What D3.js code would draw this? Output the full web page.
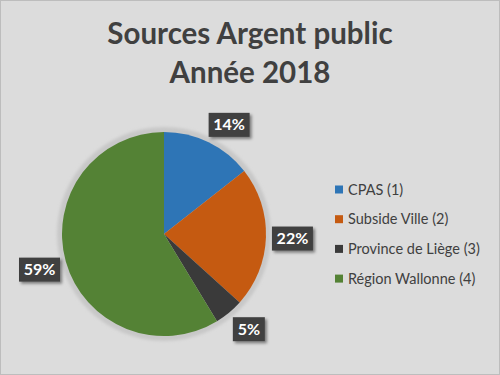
<!DOCTYPE html>
<html><head><meta charset="utf-8">
<script src="https://cdn.jsdelivr.net/npm/d3@7"></script>
<style>html,body{margin:0;padding:0;background:#fff;}svg{display:block;}</style>
</head><body>
<script>
const titleLines = ["Sources Argent public", "Année 2018"];
const categories = ["CPAS (1)", "Subside Ville (2)", "Province de Liège (3)", "Région Wallonne (4)"];
const values = [14.4, 22.3, 4.6, 58.7];
const colors = ["#2e75b6", "#c55a11", "#3a3a3a", "#548235"];

const W = 500, H = 375;
const svg = d3.select("body").append("svg").attr("width", W).attr("height", H);
const defs = svg.append("defs");
const f = defs.append("filter").attr("id","ring").attr("x","-20%").attr("y","-20%").attr("width","140%").attr("height","140%");
f.append("feGaussianBlur").attr("stdDeviation", 1.5);
const fs = defs.append("filter").attr("id","lblsh").attr("x","-30%").attr("y","-30%").attr("width","160%").attr("height","160%");
fs.append("feDropShadow").attr("dx",2).attr("dy",2).attr("stdDeviation",1.5).attr("flood-color","#000").attr("flood-opacity",0.45);

svg.append("rect").attr("x",0.5).attr("y",0.5).attr("width",W-1).attr("height",H-1)
  .attr("fill","#dcdcdc").attr("stroke","#bdbdbd").attr("stroke-width",1);

svg.append("g").selectAll("text").data(titleLines).join("text")
  .attr("x", 250).attr("y",(d,i)=>44 + i*38.5)
  .attr("text-anchor","middle").attr("font-family","Lato, 'Open Sans', sans-serif")
  .attr("font-weight",700).attr("font-size",29.5).attr("fill","#404040").text(d=>d);

const cx = 164, cy = 234, R = 102;
const g = svg.append("g").attr("transform",`translate(${cx},${cy})`);
g.append("circle").attr("r", R+5).attr("fill","#c8c8c8").attr("filter","url(#ring)");

const pie = d3.pie().sort(null).value(d=>d)(values);
const arc = d3.arc().innerRadius(0).outerRadius(R);
g.selectAll("path.s").data(pie).join("path").attr("class","s")
  .attr("d", arc).attr("fill",(d,i)=>colors[i]);

// outside-end label placement: anchor just outside the pie, box pushed outward
const lblR = R + 6;
const fmt = d => d3.format(".0f")(d) + "%";
const clamp = v => Math.max(-1, Math.min(1, v));
const lg = g.selectAll("g.lbl").data(pie).join("g").attr("class","lbl")
  .attr("transform", d=>{
    const a = (d.startAngle + d.endAngle)/2;
    const ux = Math.sin(a), uy = -Math.cos(a);
    const w = fmt(d.data).length === 2 ? 32 : 41, h = 24;
    const x = ux*lblR + clamp(ux*2)*w/2, y = uy*lblR + clamp(uy*2)*h/2;
    return `translate(${x},${y})`;
  });
lg.each(function(d){
  const t = fmt(d.data);
  const w = t.length === 2 ? 32 : 41;
  d3.select(this).append("rect").attr("x",-w/2).attr("y",-12).attr("width",w).attr("height",24)
    .attr("fill","#3f3f3f").attr("filter","url(#lblsh)");
  d3.select(this).append("text").attr("text-anchor","middle").attr("y",5.5)
    .attr("font-family","Lato, 'Open Sans', sans-serif").attr("font-weight",700)
    .attr("font-size",16).attr("fill","#ffffff").text(t);
});

const leg = svg.append("g").selectAll("g").data(categories).join("g")
  .attr("transform",(d,i)=>`translate(335,${189.5 + i*29.7})`);
leg.append("rect").attr("x",0).attr("y",-4).attr("width",8).attr("height",8).attr("fill",(d,i)=>colors[i]);
leg.append("text").attr("x",13).attr("y",5).attr("font-family","Lato, 'Open Sans', sans-serif")
  .attr("font-size",14.5).attr("fill","#404040").text(d=>d);
</script>
</body></html>
